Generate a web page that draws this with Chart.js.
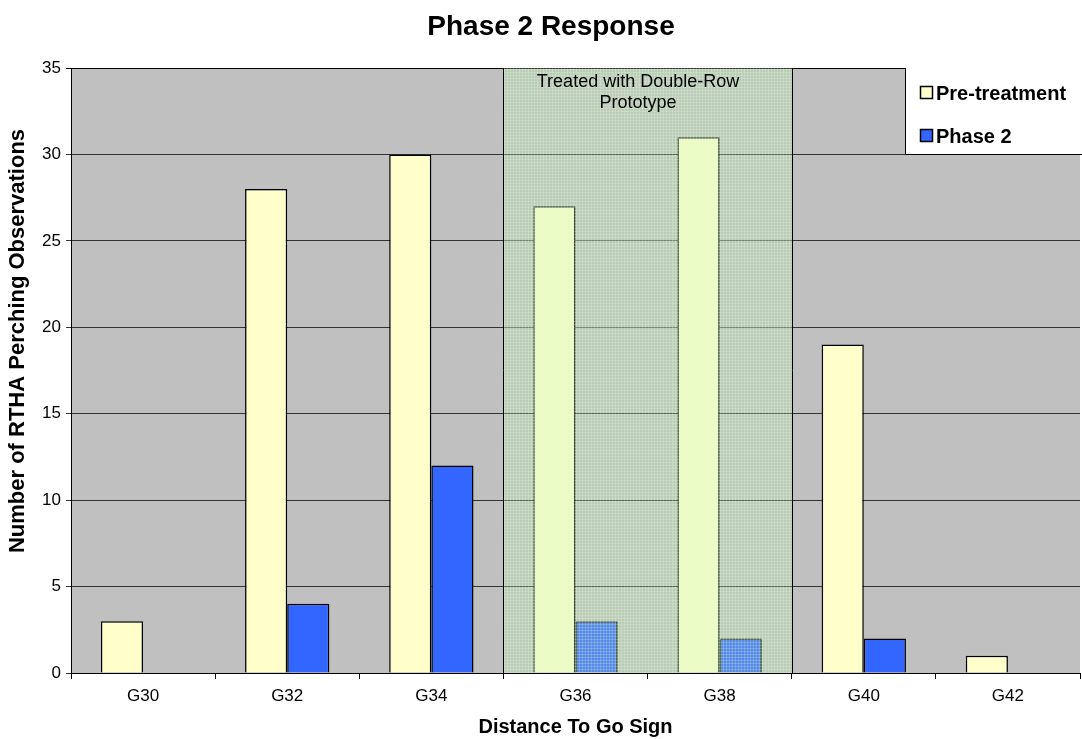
<!DOCTYPE html>
<html>
<head>
<meta charset="utf-8">
<script src="https://cdn.jsdelivr.net/npm/chart.js@4"></script>
<style>
  html, body { margin: 0; padding: 0; background: #fff; }
  #wrap { width: 1082px; height: 739px; }
</style>
</head>
<body>
<div id="wrap"><canvas id="myChart" width="1082" height="739"></canvas></div>
<script>
// data
var sites = ['G30', 'G32', 'G34', 'G36', 'G38', 'G40', 'G42'];
var preTreatment = [3, 28, 30, 27, 31, 19, 1];
var phase2 = [0, 4, 12, 3, 2, 2, 0];
var treatedSites = ['G36', 'G38'];
var treatedLabel = ['Treated with Double-Row', 'Prototype'];
var yTicks = [0, 5, 10, 15, 20, 25, 30, 35];
var chartTitle = 'Phase 2 Response';
var yTitle = 'Number of RTHA Perching Observations';

var FONT = 'Arial, "Liberation Sans", sans-serif';

// grey plot background
var plotBg = {
    id: 'plotBg',
    beforeDraw: function(chart) {
        var a = chart.chartArea, c = chart.ctx;
        c.save();
        c.fillStyle = '#c0c0c0';
        c.fillRect(a.left, a.top, a.right - a.left, a.bottom - a.top);
        c.restore();
    }
};

function makePattern(c) {
    var p = document.createElement('canvas');
    p.width = 3; p.height = 3;
    var pc = p.getContext('2d');
    pc.fillStyle = 'rgba(180,240,170,0.26)';
    pc.fillRect(0, 0, 3, 3);
    pc.fillStyle = 'rgba(230,255,225,0.22)';
    pc.fillRect(0, 0, 3, 1);
    pc.fillRect(0, 0, 1, 3);
    return c.createPattern(p, 'repeat');
}

// shaded "treated" band over G36..G38
var treatedBand = {
    id: 'treatedBand',
    afterDatasetsDraw: function(chart) {
        var x = chart.scales.x, a = chart.chartArea, c = chart.ctx;
        var i0 = sites.indexOf(treatedSites[0]) - 0.5;
        var i1 = sites.indexOf(treatedSites[treatedSites.length - 1]) + 0.5;
        var x0 = Math.round(x.getPixelForValue(i0)) + 0.5;
        var x1 = Math.round(x.getPixelForValue(i1)) + 0.5;
        c.save();
        c.fillStyle = makePattern(c);
        c.fillRect(x0, a.top, x1 - x0, a.bottom - a.top);
        c.strokeStyle = '#000';
        c.lineWidth = 1;
        c.beginPath();
        c.moveTo(x0, a.bottom); c.lineTo(x0, a.top);
        c.moveTo(x1, a.top); c.lineTo(x1, a.bottom);
        c.stroke();
        c.fillStyle = '#000';
        c.font = '18px ' + FONT;
        c.textAlign = 'center';
        c.textBaseline = 'middle';
        var cx = (x0 + x1) / 2 - 10;
        c.fillText(treatedLabel[0], cx, a.top + 14);
        c.fillText(treatedLabel[1], cx, a.top + 35);
        c.restore();
    }
};

// boxed legend in the top right corner of the plot, plus titles
var cornerLegend = {
    id: 'cornerLegend',
    afterDraw: function(chart) {
        var a = chart.chartArea, c = chart.ctx;
        var bx = 905.5, by = a.top, bw = a.right - bx + 2, bh = 154.5 - a.top;
        c.save();
        c.fillStyle = '#fff';
        c.fillRect(bx, by, bw, bh);
        c.strokeStyle = '#000';
        c.lineWidth = 1;
        c.beginPath();
        c.moveTo(bx, by); c.lineTo(bx, by + bh); c.lineTo(bx + bw, by + bh);
        c.stroke();
        c.font = 'bold 20px ' + FONT;
        c.textBaseline = 'middle';
        c.textAlign = 'left';
        chart.data.datasets.forEach(function(ds, i) {
            var yy = by + 25 + i * 43;
            c.fillStyle = ds.backgroundColor;
            c.fillRect(920.5, yy - 6.5, 12, 12);
            c.strokeStyle = '#000';
            c.lineWidth = 1.5;
            c.strokeRect(920.5, yy - 6.5, 12, 12);
            c.fillStyle = '#000';
            c.fillText(ds.label, 936, yy + 1);
        });

        // chart title
        c.fillStyle = '#000';
        c.textAlign = 'center';
        c.font = 'bold 28px ' + FONT;
        c.fillText(chartTitle, 551, 27);

        // y axis title
        c.translate(18, 341);
        c.rotate(-Math.PI / 2);
        c.font = 'bold 22px ' + FONT;
        c.fillText(yTitle, 0, 0);
        c.restore();
    }
};

var ctx = document.getElementById('myChart').getContext('2d');
var chart = new Chart(ctx, {
    type: 'bar',
    data: {
        labels: sites,
        datasets: [{
            label: 'Pre-treatment',
            data: preTreatment,
            backgroundColor: '#ffffcc',
            borderColor: '#000',
            borderWidth: 1.5
        }, {
            label: 'Phase 2',
            data: phase2,
            backgroundColor: '#3366ff',
            borderColor: '#000',
            borderWidth: 1.5
        }]
    },
    options: {
        responsive: false,
        animation: false,
        layout: { padding: { left: 0, right: 2, top: 68, bottom: 0 } },
        datasets: {
            bar: { categoryPercentage: 0.585, barPercentage: 1.0 }
        },
        plugins: {
            legend: { display: false },
            tooltip: { enabled: false },
            title: { display: false }
        },
        scales: {
            x: {
                afterFit: function(s) { s.height = 66; },
                border: { color: '#000', width: 1 },
                grid: {
                    drawOnChartArea: false,
                    color: '#000',
                    tickLength: 6,
                    offset: true
                },
                ticks: {
                    color: '#000',
                    font: { family: FONT, size: 17 },
                    padding: 7
                },
                title: {
                    display: true,
                    text: 'Distance To Go Sign',
                    color: '#000',
                    font: { family: FONT, size: 20, weight: 'bold' },
                    padding: { top: 4, bottom: 0 }
                }
            },
            y: {
                min: 0,
                max: 35,
                afterFit: function(s) { s.width = 71; },
                afterBuildTicks: function(s) {
                    s.ticks = yTicks.map(function(v) { return { value: v }; });
                },
                border: { color: '#000', width: 1 },
                grid: {
                    color: function(c) { return c.tick && c.tick.value === 35 ? '#000' : '#333'; },
                    tickLength: 5
                },
                ticks: {
                    color: '#000',
                    font: { family: FONT, size: 17 },
                    padding: 5
                },
                title: { display: false }
            }
        }
    },
    plugins: [plotBg, treatedBand, cornerLegend]
});
</script>
</body>
</html>
